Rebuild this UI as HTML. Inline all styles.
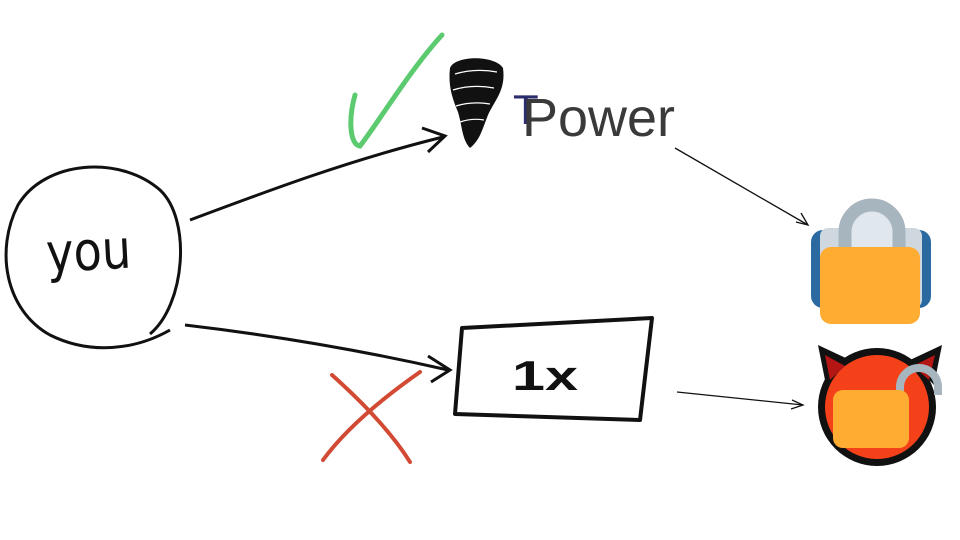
<!DOCTYPE html>
<html><head><style>body{margin:0;background:#fff}svg{display:block}</style></head>
<body>
<svg width="960" height="540" viewBox="0 0 960 540" xmlns="http://www.w3.org/2000/svg" font-family="Liberation Sans, sans-serif">
<rect width="960" height="540" fill="#fff"/>
<!-- you circle -->
<path d="M150,334 C185,305 192,220 160,190 C120,155 45,160 18,205 C-5,250 5,310 50,335 C90,355 135,350 170,330" fill="none" stroke="#111" stroke-width="3"/>
<text x="46" y="270" font-size="54" font-family="DejaVu Sans Condensed, DejaVu Sans, sans-serif" fill="#111" textLength="85" lengthAdjust="spacingAndGlyphs" transform="rotate(-3 85 250)">you</text>
<!-- arrows -->
<path d="M190,220 C270,190 350,160 443,137" fill="none" stroke="#111" stroke-width="3"/>
<path d="M422,128 L445,136 L428,152" fill="none" stroke="#111" stroke-width="3"/>
<path d="M185,325 C270,335 360,350 448,370" fill="none" stroke="#111" stroke-width="3"/>
<path d="M428,356 L450,370 L431,382" fill="none" stroke="#111" stroke-width="3"/>
<path d="M675,148 L808,225" stroke="#111" stroke-width="1.3"/>
<path d="M796,222 L808,225 L801,213" fill="none" stroke="#111" stroke-width="1.3"/>
<path d="M677,392 L803,405" stroke="#111" stroke-width="1.3"/>
<path d="M792,400 L803,405 L791,409" fill="none" stroke="#111" stroke-width="1.3"/>
<!-- check -->
<path d="M355,95 C348,120 350,145 360,146 C380,120 410,70 442,35" fill="none" stroke="#5ccb70" stroke-width="5" stroke-linecap="round"/>
<!-- X -->
<path d="M332,375 C360,400 390,430 410,462 M420,372 C380,400 345,430 323,460" fill="none" stroke="#d24a33" stroke-width="4" stroke-linecap="round"/>
<!-- tornado -->
<path d="M450,68 C455,55 495,55 503,68 C506,90 495,100 488,115 C482,130 480,140 470,148 C462,140 462,125 458,112 C452,98 448,85 450,68 Z" fill="#111"/>
<g stroke="#fff" stroke-width="1.2" fill="none"><path d="M455,74 Q475,68 497,72 M453,90 Q472,84 494,88 M456,106 Q472,101 490,104 M460,122 Q472,118 484,120"/></g>
<!-- Power -->
<text x="513" y="124" font-size="42" fill="#2b2d6e">T</text>
<text x="522" y="136" font-size="54" fill="#3a3a3a" textLength="153" lengthAdjust="spacingAndGlyphs">Power</text>
<!-- 1x box -->
<path d="M462,328 L652,318 L640,420 L455,414 Z" fill="none" stroke="#111" stroke-width="4" stroke-linejoin="round"/>
<text x="512" y="390" font-size="42" font-weight="bold" fill="#111" textLength="66" lengthAdjust="spacingAndGlyphs">1x</text>
<!-- lock -->
<rect x="811" y="230" width="120" height="78" rx="12" fill="#2a6aa0"/>
<rect x="820" y="228" width="102" height="80" rx="8" fill="#cfd8df"/>
<path d="M845,250 V232 A27,27 0 0 1 899,232 V250" fill="#e1e8ed"/>
<path d="M845,250 V232 A27,27 0 0 1 899,232 V250" fill="none" stroke="#a7b5bf" stroke-width="13"/>
<rect x="820" y="247" width="100" height="77" rx="11" fill="#ffac33"/>
<!-- devil -->
<path d="M818,345 L850,360 L826,385 Z M942,345 L910,360 L934,385 Z" fill="#111"/>
<circle cx="877" cy="407" r="59" fill="#111"/>
<circle cx="877" cy="407" r="52" fill="#f4411a"/>
<path d="M825,355 L845,366 L830,380 Z M935,355 L913,366 L929,380 Z" fill="#b31613"/>
<path d="M900,395 V387 A19,19 0 0 1 938,387 V395" fill="none" stroke="#a7b5bf" stroke-width="8"/>
<rect x="833" y="390" width="76" height="58" rx="10" fill="#ffac33"/>
</svg>
</body></html>
